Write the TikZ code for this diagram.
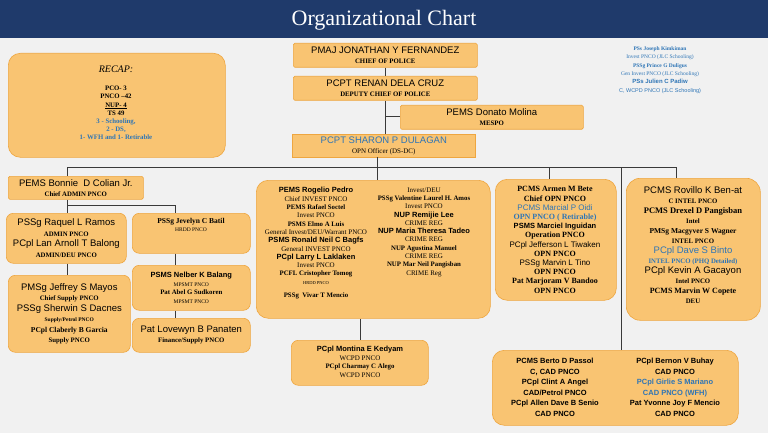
\documentclass[tikz,border=0pt]{standalone}
\usepackage{fontspec}
\setmainfont{Liberation Serif}
\setsansfont{Liberation Sans}
\definecolor{bg}{HTML}{F1F1F1}
\definecolor{navy}{HTML}{1F3A6B}
\definecolor{boxf}{HTML}{F9C472}
\definecolor{boxd}{HTML}{EEA640}
\definecolor{bl}{HTML}{2E75B6}
\definecolor{ln}{HTML}{3A3A3A}
\newcommand{\nm}[1]{{\sffamily\fontsize{9.5}{9.5}\selectfont #1}}
\newcommand{\nmb}[1]{{\sffamily\bfseries\fontsize{7.5}{7.5}\selectfont #1}}
\newcommand{\ttl}[1]{{\bfseries\fontsize{6.8}{6.8}\selectfont #1}}
\newcommand{\sr}[1]{{\fontsize{7}{7}\selectfont #1}}
\newcommand{\lead}[1]{\fontsize{6}{#1}\selectfont}
\tikzset{
 box/.style={draw=boxd,fill=boxf,rounded corners=7pt,anchor=north west,inner sep=1pt,align=center,line width=0.6pt},
 sq/.style={box,rounded corners=1.5pt,font=\lead{10}},
 conn/.style={draw=ln,line width=0.9pt},
}
\begin{document}
\begin{tikzpicture}[x=1pt,y=-1pt]
\useasboundingbox (0,0) rectangle (768,433);
\fill[bg] (0,0) rectangle (768,433);
\fill[navy] (0,0) rectangle (768,38);
\node[text=white,font=\fontsize{22}{24}\selectfont] (title) at (384,20) {Organizational Chart};
% recap
\node[box,minimum width=217,minimum height=104,rounded corners=12pt] (recap) at (8,53) {};
\node[align=center,font=\lead{8.2}] (recapt) at (116,103) {{\itshape\fontsize{10}{10}\selectfont RECAP:}\\[10pt]
\ttl{PCO- 3}\\ \ttl{PNCO --42}\\ \ttl{\underline{NUP- 4}}\\ \ttl{TS 49}\\
\textcolor{bl}{\ttl{3 - Schooling,}}\\ \textcolor{bl}{\ttl{2 - DS,}}\\ \textcolor{bl}{\ttl{1- WFH and 1- Retirable}}};
% top chain
\node[sq,minimum width=184,minimum height=24] (pmaj) at (293,43) {\nm{PMAJ JONATHAN Y FERNANDEZ}\\\ttl{CHIEF OF POLICE}};
\node[sq,minimum width=184,minimum height=24] (renan) at (293,76) {\nm{PCPT RENAN DELA CRUZ}\\\ttl{DEPUTY CHIEF OF POLICE}};
\node[sq,minimum width=183,minimum height=24] (donato) at (400,105) {\nm{PEMS Donato Molina}\\\ttl{MESPO}};
\node[box,rounded corners=0pt,minimum width=183,minimum height=23,font=\lead{10}] (sharon) at (292,134) {\textcolor{bl}{\nm{PCPT SHARON P DULAGAN}}\\\sr{OPN Officer (DS-DC)}};
\node[align=center,text=bl,font=\lead{8.3}] (blue) at (660,70) {{\bfseries\fontsize{5.5}{5.5}\selectfont PSs Joseph Kimkiman}\\ {\fontsize{5.5}{5.5}\selectfont Invest PNCO (JLC Schooling)}\\ {\bfseries\fontsize{5.5}{5.5}\selectfont PSSg Prince G Duligus}\\ {\fontsize{5.5}{5.5}\selectfont Gen Invest PNCO (JLC Schooling)}\\ {\sffamily\bfseries\fontsize{6}{6}\selectfont PSs Julien C Padiw}\\ {\sffamily\fontsize{5.5}{5.5}\selectfont C, WCPD PNCO (JLC Schooling)}};
% left branch
\node[sq,minimum width=135,minimum height=23] (bonnie) at (8,176) {\nm{PEMS Bonnie\ \ D Colian Jr.}\\\ttl{Chief ADMIN PNCO}};
\node[box,minimum width=120,minimum height=50,font=\lead{10.5}] (raquel) at (6,213) {\nm{PSSg Raquel L Ramos}\\\ttl{ADMIN PNCO}\\\nm{PCpl Lan Arnoll T Balong}\\\ttl{ADMIN/DEU PNCO}};
\node[box,minimum width=118,minimum height=40,anchor=north west] (jev) at (132,213) {};
\node[anchor=north,align=center,font=\lead{8}] (jevt) at (191,215) {\ttl{\fontsize{7.5}{7.5}\selectfont PSSg Jevelyn C Batil}\\{\fontsize{5.5}{5.5}\selectfont HRDD PNCO}};
\node[box,minimum width=122,minimum height=77,font=\lead{10.5}] (jeff) at (8,275) {\nm{PMSg Jeffrey S Mayos}\\\ttl{Chief Supply PNCO}\\\nm{PSSg Sherwin S Dacnes}\\{\bfseries\fontsize{5.5}{5.5}\selectfont Supply/Petrol PNCO}\\\ttl{\fontsize{7.5}{7.5}\selectfont PCpl Claberly B Garcia}\\\ttl{Supply PNCO}};
\node[box,minimum width=118,minimum height=45,font=\lead{8.8}] (nelber) at (132,265) {\nmb{PSMS Nelber K Balang}\\{\fontsize{5.5}{5.5}\selectfont MPSMT PNCO}\\\ttl{Pat Abel G Sudkoren}\\{\fontsize{5.5}{5.5}\selectfont MPSMT PNCO}};
\node[box,minimum width=118,minimum height=34,font=\lead{10}] (lovewyn) at (132,318) {\nm{Pat Lovewyn B Panaten}\\\ttl{Finance/Supply PNCO}};
% middle
\node[box,minimum width=234,minimum height=138,rounded corners=12pt] (mid) at (256,180) {};
\node[anchor=north,align=center,font=\lead{8.3}] (midl) at (316,184) {\nmb{PEMS Rogelio Pedro}\\ \sr{Chief INVEST PNCO}\\ \ttl{PEMS Rafael Soctel}\\ \sr{Invest PNCO}\\ \ttl{PSMS Elmo A Luis}\\ \sr{General Invest/DEU/Warrant PNCO}\\ \nmb{PSMS Ronald Neil C Bagfs}\\ \sr{General INVEST PNCO}\\ \nmb{PCpl Larry L Laklaken}\\ \sr{Invest PNCO}\\ \ttl{PCFL Cristopher Tomog}\\ {\fontsize{4.5}{4.5}\selectfont HRDD PNCO}\\[5pt] \ttl{PSSg\ \ Vivar T Mencio}};
\node[anchor=north,align=center,font=\lead{8.3}] (midr) at (424,184) {\sr{Invest/DEU}\\ \ttl{PSSg Valentine Laurel H. Amos}\\ \sr{Invest PNCO}\\ \nmb{NUP Remijie Lee}\\ \sr{CRIME REG}\\ \nmb{NUP Maria Theresa Tadeo}\\ \sr{CRIME REG}\\ \ttl{NUP Agustina Manuel}\\ \sr{CRIME REG}\\ \ttl{NUP Mar Neil Pangisban}\\ \sr{CRIME Reg}};
\node[box,minimum width=137,minimum height=45,anchor=north west] (montina) at (291,340) {};
\node[anchor=north,align=center,font=\lead{8.5}] (montinat) at (360,343) {\nmb{PCpl Montina E Kedyam}\\\sr{WCPD PNCO}\\\ttl{PCpl Charmay C Alego}\\\sr{WCPD PNCO}};
% armen
\node[box,minimum width=121,minimum height=121,rounded corners=12pt] (armen) at (495,179) {};
\node[anchor=north,align=center,font=\lead{9.2}] (armt) at (555,183) {\ttl{\fontsize{8}{8}\selectfont PCMS Armen M Bete}\\ \ttl{\fontsize{8}{8}\selectfont Chief OPN PNCO}\\ \textcolor{bl}{{\sffamily\fontsize{8}{8}\selectfont PCMS Marcial P Oidi}}\\ \textcolor{bl}{\ttl{\fontsize{8}{8}\selectfont OPN PNCO ( Retirable)}}\\ {\sffamily\bfseries\fontsize{7.5}{7.5}\selectfont PSMS Marciel Inguidan}\\ \ttl{\fontsize{8}{8}\selectfont Operation PNCO}\\ {\sffamily\fontsize{8}{8}\selectfont PCpl Jefferson L Tiwaken}\\ \ttl{\fontsize{8}{8}\selectfont OPN PNCO}\\ {\sffamily\fontsize{8}{8}\selectfont PSSg Marvin L Tino}\\ \ttl{\fontsize{8}{8}\selectfont OPN PNCO}\\ \ttl{\fontsize{8}{8}\selectfont Pat Marjoram V Bandoo}\\ \ttl{\fontsize{8}{8}\selectfont OPN PNCO}};
% rovillo
\node[box,minimum width=134,minimum height=142,rounded corners=14pt] (rov) at (626,178) {};
\node[anchor=north,align=center,font=\lead{10}] (rovt) at (693,183) {\nm{PCMS Rovillo K Ben-at}\\\ttl{C INTEL PNCO}\\\ttl{\fontsize{8.5}{8.5}\selectfont PCMS Drexel D Pangisban}\\\ttl{Intel}\\\ttl{\fontsize{7.5}{7.5}\selectfont PMSg Macgyver S Wagner}\\\ttl{INTEL PNCO}\\\textcolor{bl}{\nm{PCpl Dave S Binto}}\\\textcolor{bl}{\ttl{INTEL PNCO (PHQ Detailed)}}\\\nm{PCpl Kevin A Gacayon}\\\ttl{Intel PNCO}\\\ttl{\fontsize{8}{8}\selectfont PCMS Marvin W Copete}\\\ttl{DEU}};
% bottom right
\node[box,minimum width=246,minimum height=75,rounded corners=12pt] (cad) at (492,350) {};
\node[anchor=north,align=center,font=\lead{10.5}] (cadl) at (555,355) {\nmb{PCMS Berto D Passol}\\ \nmb{C, CAD PNCO}\\ \nmb{PCpl Clint A Angel}\\ \nmb{CAD/Petrol PNCO}\\ \nmb{PCpl Allen Dave B Senio}\\ \nmb{CAD PNCO}};
\node[anchor=north,align=center,font=\lead{10.5}] (cadr) at (675,355) {\nmb{PCpl Bernon V Buhay}\\ \nmb{CAD PNCO}\\ \textcolor{bl}{\nmb{PCpl Girlie S Mariano}}\\ \textcolor{bl}{\nmb{CAD PNCO (WFH)}}\\ \nmb{Pat Yvonne Joy F Mencio}\\ \nmb{CAD PNCO}};
% connectors
\coordinate (b1) at (67,167); \coordinate (b2) at (676,167);
\coordinate (sp) at (385,167);
\draw[conn] (pmaj.south -| sp) -- (renan.north -| sp);
\draw[conn] (renan.south -| sp) -- (sharon.north -| sp);
\draw[conn] (385,116) -- (donato.west |- 0,116);
\draw[conn] (377,157) -- (mid.north -| 377,0);
\draw[conn] (b1) -- (b2);
\draw[conn] (b1) -- (bonnie.north -| b1);
\draw[conn] (549,167) -- (armen.north -| 549,0);
\draw[conn] (621,167) -- (cad.north -| 621,0);
\draw[conn] (b2) -- (rov.north -| b2);
\draw[conn] (bonnie.south -| b1) -- (raquel.north -| b1);
\draw[conn] (67,205) -- (175,205) -- (jev.north -| 175,0);
\draw[conn] (raquel.south -| b1) -- (jeff.north -| b1);
\draw[conn] (jev.south -| 175,0) -- (nelber.north -| 175,0);
\draw[conn] (nelber.south -| 175,0) -- (lovewyn.north -| 175,0);
\draw[conn] (mid.south -| 360,0) -- (montina.north -| 360,0);
\end{tikzpicture}
\end{document}
